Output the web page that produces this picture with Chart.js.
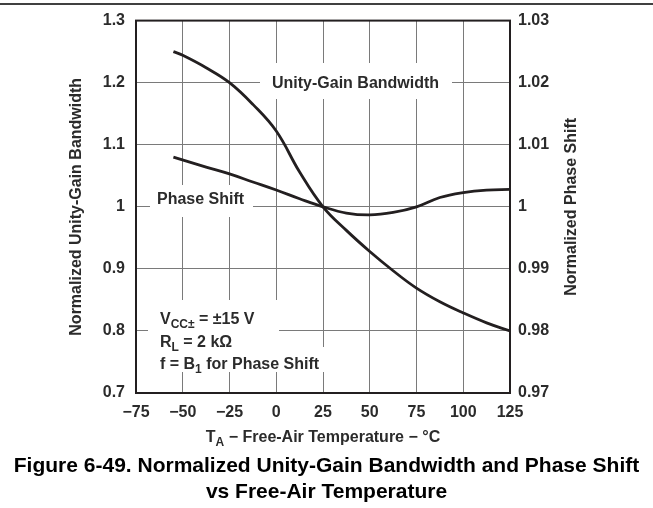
<!DOCTYPE html>
<html>
<head>
<meta charset="utf-8">
<script src="https://cdn.jsdelivr.net/npm/chart.js@4/dist/chart.umd.min.js"></script>
<style>
  html, body { margin: 0; padding: 0; background: #fff; }
  canvas { display: block; }
</style>
</head>
<body>
<canvas id="chart" width="653" height="508"></canvas>
<script>
/* ====== DATA ====== */
const ugbTemp  = [-55, -50, -37.5, -25, -12.5, 0, 12.5, 25, 37.5, 50, 62.5, 75, 87.5, 100, 112.5, 125];
const ugbValue = [1.25, 1.244, 1.224, 1.20, 1.165, 1.122, 1.056, 1.0, 0.962, 0.928, 0.897, 0.869, 0.847, 0.829, 0.813, 0.80];

const phaseTemp  = [-55, -37.5, -25, -12.5, 0, 12.5, 25, 37.5, 50, 62.5, 75, 87.5, 100, 112.5, 125];
const phaseValue = [1.008, 1.0064, 1.0053, 1.004, 1.0027, 1.0013, 1.0, 0.999, 0.9987, 0.9991, 1.0, 1.0015, 1.0023, 1.0027, 1.0028];

const xTickLabels  = ["−75", "−50", "−25", "0", "25", "50", "75", "100", "125"];
const yTickLabels  = ["0.7", "0.8", "0.9", "1", "1.1", "1.2", "1.3"];
const y2TickLabels = ["0.97", "0.98", "0.99", "1", "1.01", "1.02", "1.03"];

/* ====== HELPERS ====== */
const FONT = "'Liberation Sans', Arial, Helvetica, sans-serif";
const INK = "#2b2b2b";
const LINE = "#231f20";

const toPoints = (xs, ys) => xs.map((x, i) => ({ x, y: ys[i] }));

// draws text pieces, some of them as subscript
function drawRich(ctx, parts, x, y, size, align) {
  const subSize = Math.round(size * 0.72);
  let total = 0;
  parts.forEach(p => {
    ctx.font = "bold " + (p.sub ? subSize : size) + "px " + FONT;
    total += ctx.measureText(p.t).width;
  });
  let cx = align === "center" ? x - total / 2 : x;
  ctx.textAlign = "left";
  ctx.textBaseline = "alphabetic";
  parts.forEach(p => {
    ctx.font = "bold " + (p.sub ? subSize : size) + "px " + FONT;
    ctx.fillText(p.t, cx, p.sub ? y + 4 : y);
    cx += ctx.measureText(p.t).width;
  });
}

/* ====== LABELS INSIDE THE PLOT ====== */
const labelPlugin = {
  id: "labels",
  beforeDatasetsDraw(chart) {
    const ctx = chart.ctx;
    ctx.save();
    ctx.fillStyle = "#fff";
    ctx.fillRect(260, 63, 192, 36);    // Unity-Gain Bandwidth
    ctx.fillRect(150, 185, 103, 32);   // Phase Shift
    ctx.fillRect(148, 300, 131, 47);   // conditions
    ctx.fillRect(148, 347, 180, 25);

    ctx.fillStyle = INK;
    drawRich(ctx, [{ t: "Unity-Gain Bandwidth" }], 272, 88, 16, "left");
    drawRich(ctx, [{ t: "Phase Shift" }], 157, 204, 16, "left");
    drawRich(ctx, [{ t: "V" }, { t: "CC±", sub: true }, { t: " = ±15 V" }], 160, 324, 16, "left");
    drawRich(ctx, [{ t: "R" }, { t: "L", sub: true }, { t: " = 2 kΩ" }], 160, 347, 16, "left");
    drawRich(ctx, [{ t: "f = B" }, { t: "1", sub: true }, { t: " for Phase Shift" }], 160, 369, 16, "left");
    ctx.restore();
  },
  afterDraw(chart) {
    const ctx = chart.ctx;
    const a = chart.chartArea;
    ctx.save();
    // plot frame
    ctx.strokeStyle = LINE;
    ctx.lineWidth = 2;
    ctx.strokeRect(a.left, a.top, a.right - a.left, a.bottom - a.top);
    // rule at the top of the page
    ctx.strokeStyle = "#000";
    ctx.lineWidth = 1.5;
    ctx.beginPath();
    ctx.moveTo(0, 4);
    ctx.lineTo(653, 4);
    ctx.stroke();
    // right axis title, reads bottom to top like the left one
    ctx.fillStyle = INK;
    ctx.translate(572, (a.top + a.bottom) / 2);
    ctx.rotate(-Math.PI / 2);
    ctx.font = "bold 16px " + FONT;
    ctx.textAlign = "center";
    ctx.textBaseline = "middle";
    ctx.fillText("Normalized Phase Shift", 0, 0);
    ctx.setTransform(1, 0, 0, 1, 0, 0);
    // x axis title
    drawRich(ctx, [{ t: "T" }, { t: "A", sub: true }, { t: " − Free-Air Temperature − °C" }],
      (a.left + a.right) / 2, 442, 16, "center");
    // caption
    ctx.fillStyle = "#000";
    ctx.font = "bold 21px " + FONT;
    ctx.textAlign = "center";
    ctx.textBaseline = "alphabetic";
    ctx.fillText("Figure 6-49. Normalized Unity-Gain Bandwidth and Phase Shift", 326.5, 472);
    ctx.fillText("vs Free-Air Temperature", 326.5, 498);
    ctx.restore();
  }
};

/* ====== CHART ====== */
const tickFont = { family: FONT, size: 16, weight: "bold" };

new Chart(document.getElementById("chart"), {
  type: "line",
  data: {
    datasets: [{
      label: "Unity-Gain Bandwidth",
      data: toPoints(ugbTemp, ugbValue),
      yAxisID: "y",
      borderColor: LINE,
      borderWidth: 2.8,
      pointRadius: 0,
      tension: 0.4,
      fill: false
    }, {
      label: "Phase Shift",
      data: toPoints(phaseTemp, phaseValue),
      yAxisID: "y2",
      borderColor: LINE,
      borderWidth: 2.8,
      pointRadius: 0,
      tension: 0.4,
      fill: false
    }]
  },
  options: {
    responsive: false,
    animation: false,
    layout: { padding: { top: 20, left: 0, right: 0, bottom: 0 } },
    plugins: {
      legend: { display: false },
      title: { display: false },
      tooltip: { enabled: false }
    },
    scales: {
      x: {
        type: "linear",
        min: -75,
        max: 125,
        ticks: {
          stepSize: 25,
          padding: 10,
          color: INK,
          font: tickFont,
          callback: (v, i) => xTickLabels[i]
        },
        grid: { color: "#7a7a7a", lineWidth: 1, drawTicks: false },
        border: { display: false },
        afterFit: s => { s.height = 115; }
      },
      y: {
        position: "left",
        min: 0.7,
        max: 1.3,
        ticks: {
          stepSize: 0.1,
          padding: 11,
          color: INK,
          font: tickFont,
          callback: (v, i) => yTickLabels[i]
        },
        title: {
          display: true,
          text: "Normalized Unity-Gain Bandwidth",
          color: INK,
          font: tickFont,
          padding: { top: 67, bottom: 0 }
        },
        grid: { color: "#7a7a7a", lineWidth: 1, drawTicks: false },
        border: { display: false },
        afterFit: s => { s.width = 136; }
      },
      y2: {
        position: "right",
        min: 0.97,
        max: 1.03,
        ticks: {
          stepSize: 0.01,
          padding: 8,
          color: INK,
          font: tickFont,
          callback: (v, i) => y2TickLabels[i]
        },
        grid: { display: false, drawOnChartArea: false, drawTicks: false },
        border: { display: false },
        afterFit: s => { s.width = 143; }
      }
    }
  },
  plugins: [labelPlugin]
});
</script>
</body>
</html>
